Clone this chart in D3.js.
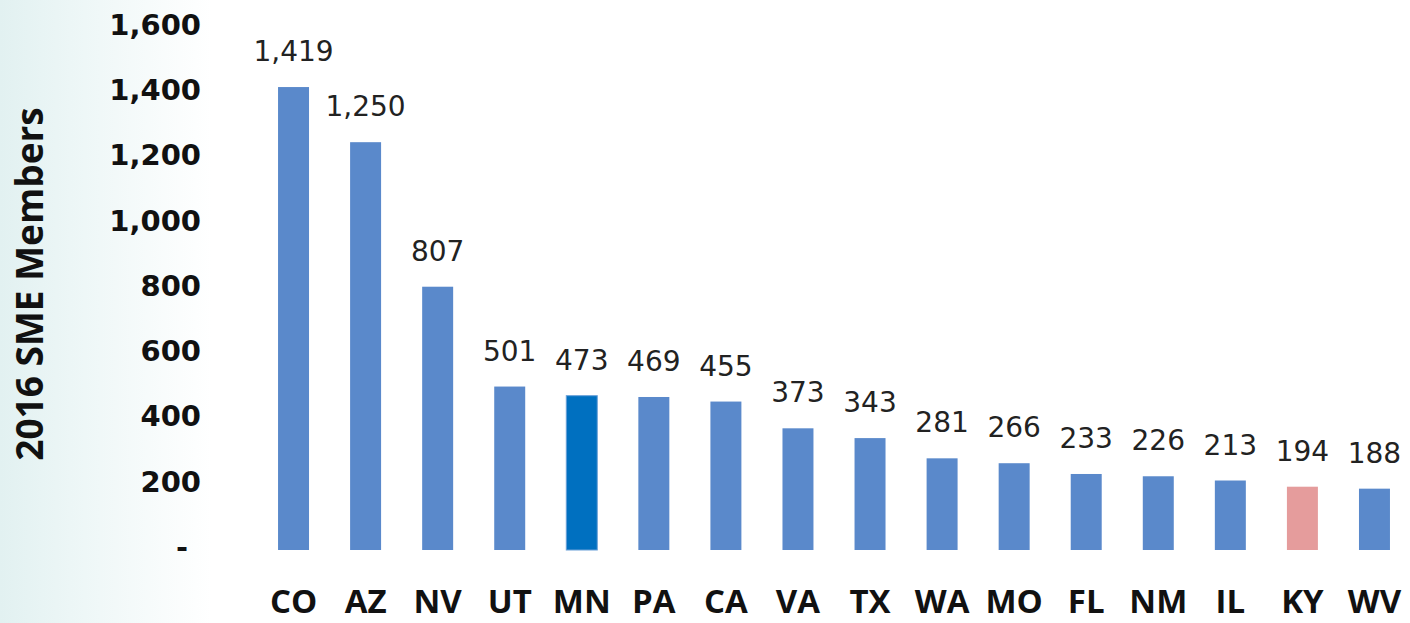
<!DOCTYPE html>
<html>
<head>
<meta charset="utf-8">
<script src="https://cdn.jsdelivr.net/npm/d3@7"></script>
<style>
  html, body { margin: 0; padding: 0; background: #fff; }
  svg { display: block; }
</style>
</head>
<body>
<svg id="chart" width="1410" height="623"></svg>
<script>
// ---- data ----
const states = ["CO","AZ","NV","UT","MN","PA","CA","VA","TX","WA","MO","FL","NM","IL","KY","WV"];
const members = [1419,1250,807,501,473,469,455,373,343,281,266,233,226,213,194,188];
const yTicks = [0,200,400,600,800,1000,1200,1400,1600];
const highlightDark = ["MN"];
const highlightPink = ["KY"];
const yTitle = "2016 SME Members";

const W = 1410, H = 623;
const svg = d3.select("#chart");

// faint background gradient on the left edge
const defs = svg.append("defs");
const grad = defs.append("linearGradient").attr("id","bg").attr("x1","0").attr("x2","1").attr("y1","0").attr("y2","0");
grad.append("stop").attr("offset","0").attr("stop-color","#e2f1f1");
grad.append("stop").attr("offset","0.06").attr("stop-color","#eef7f7");
grad.append("stop").attr("offset","0.15").attr("stop-color","#ffffff");
grad.append("stop").attr("offset","1").attr("stop-color","#ffffff");
svg.append("rect").attr("width",W).attr("height",H).attr("fill","url(#bg)");

const x = d3.scaleBand().domain(states).range([257.5, 1410.5]).paddingInner(0.57).paddingOuter(0.285);
const y = d3.scaleLinear().domain([0,1600]).range([550, 28]);

// y axis (labels only)
const yAxis = d3.axisLeft(y).tickValues(yTicks).tickSize(0).tickPadding(0)
  .tickFormat(d => d === 0 ? "-" : d3.format(",")(d));
const gy = svg.append("g").attr("transform","translate(201,0)").call(yAxis);
gy.select(".domain").remove();
gy.selectAll("text")
  .attr("font-family","'DejaVu Sans', sans-serif")
  .attr("font-weight","bold")
  .attr("font-size","29px")
  .attr("fill","#111")
  .attr("dy","0.32em")
  .attr("y", -3)
  .attr("x", d => d === 0 ? -13 : 0);

// y title
svg.append("text")
  .attr("transform","translate(43,284) rotate(-90)")
  .attr("text-anchor","middle")
  .attr("font-family","'Open Sans', sans-serif")
  .attr("font-weight","bold")
  .attr("font-size","37px")
  .attr("fill","#111")
  .text(yTitle);

// bars
const color = s => highlightDark.includes(s) ? "#0070c0" : (highlightPink.includes(s) ? "#e59c9c" : "#5a89cb");
svg.append("g").selectAll("rect").data(states).join("rect")
  .attr("x", s => x(s))
  .attr("width", x.bandwidth())
  .attr("y", (s,i) => y(members[i]))
  .attr("height", (s,i) => y(0) - y(members[i]))
  .attr("fill", color)
  .attr("stroke", s => highlightDark.includes(s) ? "#6aa0d8" : "none")
  .attr("stroke-width", 1);

// value labels
svg.append("g").selectAll("text").data(states).join("text")
  .attr("x", s => x(s) + x.bandwidth()/2)
  .attr("y", (s,i) => y(members[i]) - 26)
  .attr("text-anchor","middle")
  .attr("font-family","'DejaVu Sans', sans-serif")
  .attr("font-size","28px")
  .attr("fill","#222")
  .text((s,i) => d3.format(",")(members[i]));

// category labels
const xAxis = d3.axisBottom(x).tickSize(0).tickPadding(0);
const gx = svg.append("g").call(xAxis);
gx.select(".domain").remove();
gx.selectAll("text")
  .attr("y", 613)
  .attr("dy", null)
  .attr("font-family","'Open Sans', sans-serif")
  .attr("font-weight","bold")
  .attr("font-size","33px")
  .attr("fill","#111");
</script>
</body>
</html>
